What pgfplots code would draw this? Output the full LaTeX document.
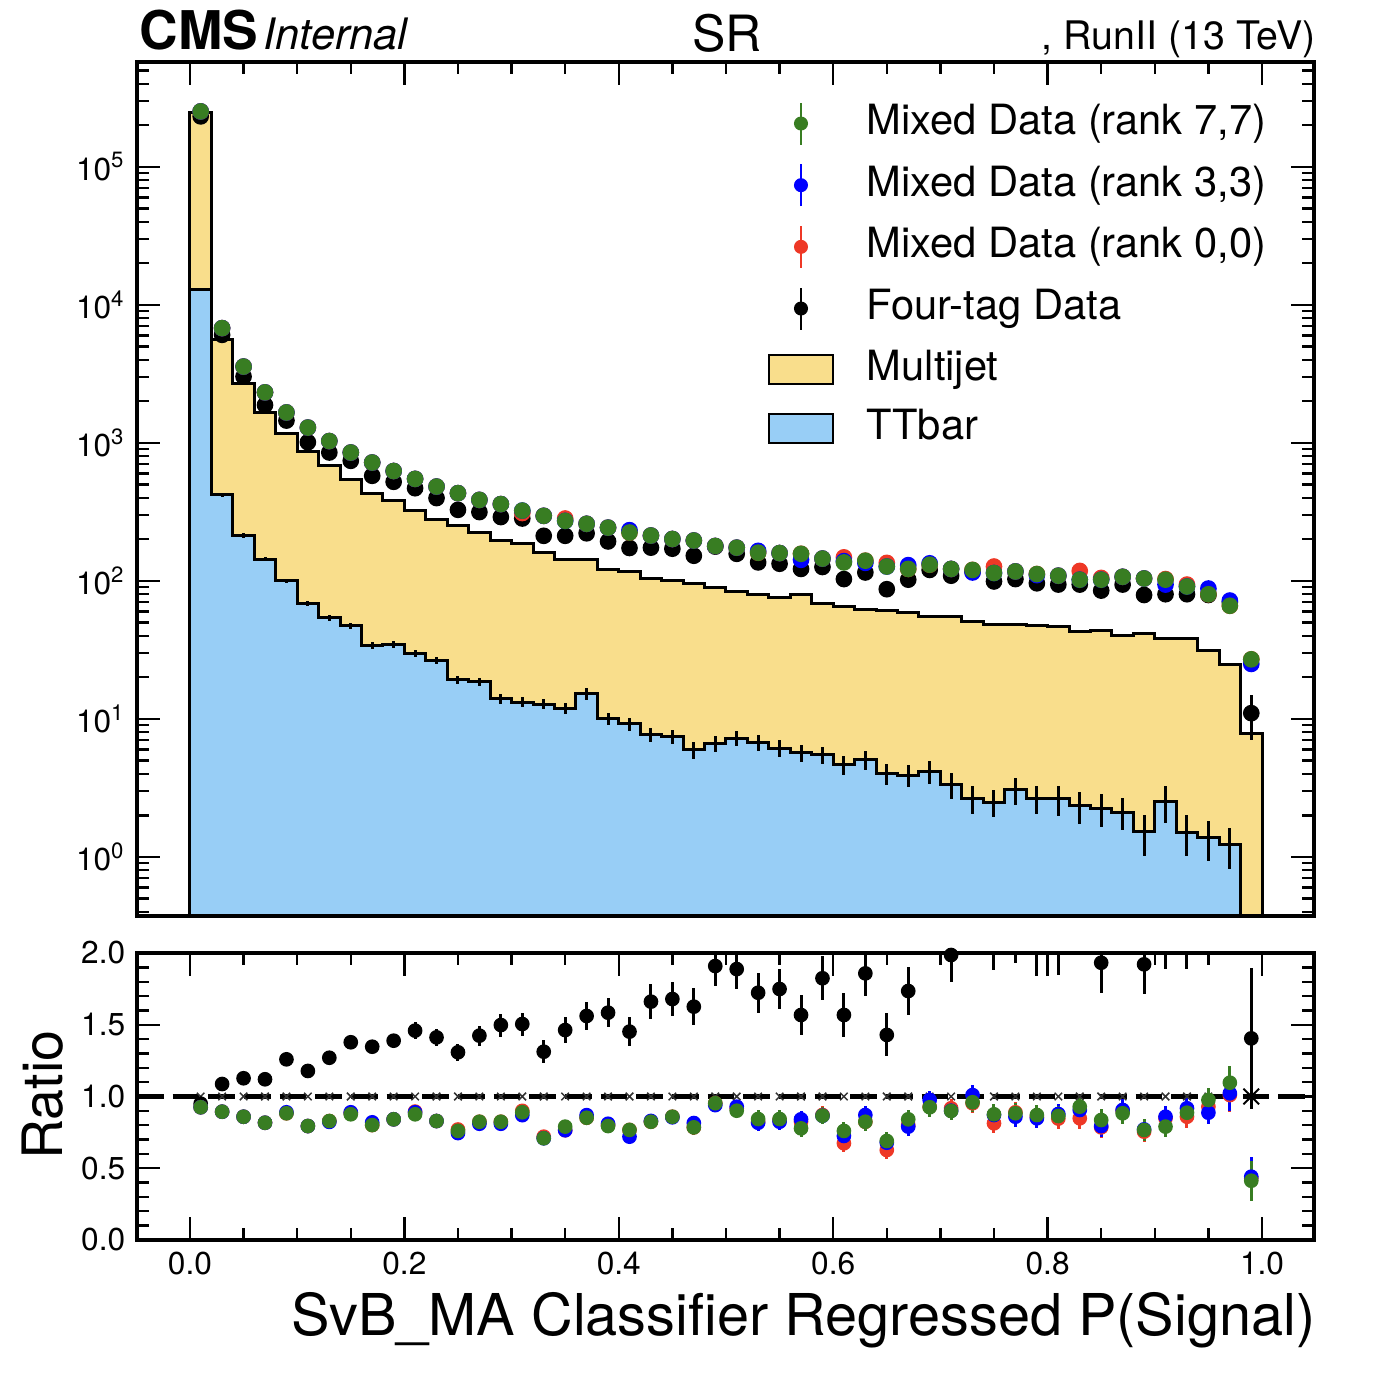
\documentclass[border=0pt]{standalone}
\usepackage{fontspec}
\setmainfont{TeX Gyre Heros}
\usepackage{pgfplots}
\pgfplotsset{compat=1.18}
\usepackage{pgfplotstable}

\definecolor{mjyellow}{RGB}{249,222,140}
\definecolor{ttblue}{RGB}{152,206,246}
\definecolor{mgreen}{RGB}{56,125,34}
\definecolor{mblue}{RGB}{0,0,255}
\definecolor{mred}{RGB}{238,56,38}

% bin left edges; tot = Multijet+TTbar stack total, tt = TTbar
\pgfplotstableread{
edge tot tt tterr
0.00 246000 13000 300
0.02 5600 420 15
0.04 2700 214 8
0.06 1670 144 5
0.08 1170 100 4
0.10 860 69 3
0.12 680 54 2.5
0.14 546 47.4 2.3
0.16 432 34 1.8
0.18 382 34.6 1.9
0.20 324 29.9 1.7
0.22 280 26.5 1.6
0.24 250 19.2 1.3
0.26 224 18.5 1.3
0.28 195 14.0 1.1
0.30 188 13.2 1.1
0.32 160 12.8 1.1
0.34 144 11.9 1.1
0.36 142 15.2 1.4
0.38 120 10.0 1.0
0.40 117 9.2 1.0
0.42 104 7.66 0.9
0.44 101 7.45 0.9
0.46 95 5.96 0.8
0.48 89 6.67 0.9
0.50 84 7.25 0.9
0.52 79 6.73 0.9
0.54 76 6.14 0.85
0.56 79 5.70 0.8
0.58 69 5.48 0.8
0.60 65 4.64 0.75
0.62 62 5.05 0.8
0.64 61 4.04 0.7
0.66 58.5 3.9 0.7
0.68 55 4.15 0.8
0.70 55 3.32 0.7
0.72 50.5 2.66 0.6
0.74 48.5 2.48 0.55
0.76 48 3.06 0.7
0.78 47.4 2.66 0.6
0.80 46.6 2.63 0.65
0.82 43.2 2.34 0.6
0.84 44 2.25 0.6
0.86 39.9 2.11 0.55
0.88 41.5 1.52 0.5
0.90 38.5 2.52 0.75
0.92 38 1.51 0.5
0.94 31.3 1.38 0.45
0.96 24.8 1.22 0.4
0.98 7.9 0.01 0
1.00 7.9 0.01 0
}\hist

% bin centres: data (top panel) and ratios (bottom panel); rb = stack/stack
\pgfplotstableread{
x d4 d4e m0 m3 m7 r4 r4e r0 r3 r7 rme rb
0.01 232000 480 252000 252000 252000 0.95 0.01 0.925 0.925 0.925 0.01 1
0.03 6060 78 6780 6780 6780 1.087 0.015 0.894 0.894 0.894 0.015 1
0.05 3020 55 3570 3570 3570 1.127 0.02 0.859 0.859 0.859 0.015 1
0.07 1880 43 2320 2320 2320 1.12 0.025 0.817 0.817 0.817 0.02 1
0.09 1450 38 1660 1660 1660 1.259 0.03 0.883 0.89 0.883 0.02 1
0.11 1010 32 1290 1290 1290 1.178 0.03 0.794 0.794 0.794 0.02 1
0.13 851 29 1030 1030 1030 1.27 0.035 0.829 0.823 0.829 0.025 1
0.15 741 27 851 851 851 1.378 0.045 0.885 0.89 0.876 0.025 1
0.17 577 24 720 720 720 1.347 0.045 0.801 0.82 0.801 0.025 1
0.19 522 23 625 625 625 1.389 0.05 0.841 0.841 0.841 0.025 1
0.21 469 22 548 548 548 1.459 0.06 0.895 0.89 0.876 0.025 1
0.23 398 20 482 482 482 1.412 0.06 0.829 0.829 0.829 0.03 1
0.25 327 18 432 432 432 1.308 0.06 0.77 0.745 0.76 0.03 1
0.27 315 18 386 386 386 1.424 0.07 0.824 0.81 0.824 0.03 1
0.29 290 17 360 360 360 1.498 0.08 0.824 0.81 0.824 0.03 1
0.31 283 17 310 323 323 1.505 0.08 0.9 0.87 0.89 0.03 1
0.33 212 15 296 296 296 1.312 0.08 0.72 0.709 0.709 0.04 1
0.35 212 15 283 272 272 1.463 0.09 0.765 0.765 0.79 0.04 1
0.37 221 15 259 259 259 1.561 0.1 0.852 0.87 0.852 0.04 1
0.39 193 14 243 243 243 1.584 0.1 0.8 0.81 0.794 0.04 1
0.41 173 13 224 233 224 1.452 0.1 0.767 0.72 0.767 0.04 1
0.43 174 13 213 213 213 1.661 0.12 0.824 0.83 0.824 0.05 1
0.45 171 13 201 201 201 1.679 0.12 0.859 0.855 0.859 0.05 1
0.47 152 12 196 196 196 1.626 0.13 0.785 0.815 0.785 0.05 1
0.49 177 13 179 179 179 1.909 0.14 0.953 0.94 0.953 0.05 1
0.51 157 13 174 174 174 1.888 0.14 0.918 0.929 0.901 0.05 1
0.53 136 12 160 165 160 1.723 0.14 0.824 0.817 0.843 0.06 1
0.55 133 12 159 159 159 1.749 0.14 0.836 0.824 0.843 0.06 1
0.57 122 11 157 142 157 1.568 0.14 0.824 0.841 0.778 0.06 1
0.59 126 11 145 145 145 1.824 0.155 0.871 0.866 0.866 0.06 1
0.61 103 10 148 139 136 1.568 0.15 0.674 0.725 0.76 0.06 1
0.63 115 11 140 135 140 1.858 0.16 0.824 0.871 0.824 0.065 1
0.65 87 9 135 127 127 1.429 0.15 0.627 0.678 0.69 0.065 1
0.67 102 10 122 130 122 1.735 0.17 0.801 0.79 0.841 0.065 1
0.69 120 11 131 134 131 2.3 0.2 0.929 0.976 0.925 0.065 1
0.71 109 10 122 122 122 1.986 0.19 0.918 0.901 0.899 0.065 1
0.73 117 11 120 115 120 2.3 0.21 0.953 1.01 0.96 0.07 1
0.75 99 10 127 114 114 2.08 0.2 0.813 0.871 0.876 0.07 1
0.77 103 10 117 117 117 2.14 0.21 0.89 0.859 0.883 0.07 1
0.79 96 10 112 110 112 2.05 0.21 0.859 0.848 0.871 0.07 1
0.81 94 10 109 109 109 2.06 0.21 0.846 0.878 0.864 0.07 1
0.83 94 10 118 102 102 2.25 0.23 0.848 0.906 0.929 0.075 1
0.85 85 9 105 102 102 1.932 0.21 0.785 0.794 0.836 0.075 1
0.87 94 10 107 107 107 2.35 0.24 0.901 0.906 0.883 0.075 1
0.89 79 9 104 104 104 1.921 0.21 0.755 0.771 0.767 0.075 1
0.91 80 9 103 94 102 2.12 0.23 0.848 0.859 0.79 0.075 1
0.93 80 9 94 91 91 2.12 0.23 0.859 0.918 0.887 0.08 1
0.95 79 9 80 88 80 2.5 0.28 0.929 0.887 0.976 0.08 1
0.97 70 8 66 72 66 2.8 0.35 1.01 1.022 1.096 0.12 1
0.99 11 4 27 25 27 1.405 0.49 0.43 0.441 0.413 0.14 1
}\pts

\pgfplotsset{
  cmsax/.style={
    scale only axis, width=353.1pt,
    xmin=-0.0494, xmax=1.0485,
    axis line style={line width=1.3pt},
    tick align=inside, xtick pos=both, ytick pos=both,
    xticklabel pos=lower, yticklabel pos=left,
    major tick length=7pt, minor tick length=3.6pt,
    tick style={black, line width=0.7pt},
    tick label style={font=\fontsize{9.5}{11}\selectfont},
    xtick={0,0.2,0.4,0.6,0.8,1.0}, minor x tick num=3,
  },
  mkleg/.style={legend image code/.code={%
    \path[draw=none, fill=none] (0pt,-6.3pt) rectangle (19.2pt,6.3pt);
    \draw[line width=0.5pt] (9.6pt,-6.3pt) -- (9.6pt,6.3pt);
    \fill (9.6pt,0pt) circle (1.9pt);}},
  yellowleg/.style={legend image code/.code={%
    \draw[line width=0.6pt, fill=mjyellow, draw=black] (0pt,-4.35pt) rectangle (19.2pt,4.35pt);}},
  blueleg/.style={legend image code/.code={%
    \draw[line width=0.6pt, fill=ttblue, draw=black] (0pt,-4.35pt) rectangle (19.2pt,4.35pt);}},
  dpts/.style={only marks, mark=*, mark size=#1,
    error bars/y dir=both, error bars/y explicit, error bars/error mark=none,
    error bars/error bar style={line width=0.9pt, solid}},
}

\begin{document}
\begin{tikzpicture}
\useasboundingbox (-41.1pt,-40.2pt) rectangle (374.1pt,372pt);

% ---------------- top panel ----------------
\begin{axis}[cmsax, name=top, at={(0pt,97.2pt)}, anchor=south west,
  height=256.2pt,
  ymode=log, log basis y=10, log origin y=infty,
  ymin=0.373, ymax=5.75e5,
  xticklabels={},
  ytick={1,10,100,1000,10000,100000},
  minor ytick={0.4,0.5,0.6,0.7,0.8,0.9,2,3,4,5,6,7,8,9,20,30,40,50,60,70,80,90,200,300,400,500,600,700,800,900,2000,3000,4000,5000,6000,7000,8000,9000,20000,30000,40000,50000,60000,70000,80000,90000,200000,300000,400000,500000},
  yticklabel={10\textsuperscript{\pgfmathparse{int(round(\tick))}\pgfmathresult}},
  legend style={at={(0.5361,0.9535)}, anchor=north west, draw=none, fill=none,
    inner sep=0pt, outer sep=0pt, font=\fontsize{12.5}{15}\selectfont,
    row sep=5.4pt, column sep=9.9pt,
    nodes={inner sep=0pt, text height=9.5pt, text depth=3pt}},
  legend cell align=left,
]
\addplot[const plot, fill=mjyellow, draw=black, line width=0.9pt, forget plot]
  table[x=edge, y=tot] {\hist} \closedcycle;
\addplot[const plot, fill=ttblue, draw=black, line width=0.9pt, forget plot]
  table[x=edge, y=tt] {\hist} \closedcycle;
\addplot[draw=none, mark=none, forget plot,
  error bars/y dir=both, error bars/y explicit, error bars/error mark=none,
  error bars/error bar style={draw=black, line width=0.9pt, solid}]
  table[x expr=\thisrow{edge}+0.01, y=tt, y error=tterr] {\hist};

\addplot[black, dpts=2.3pt, forget plot] table[x=x, y=d4, y error=d4e] {\pts};
\addplot[mred, dpts=2.3pt, forget plot] table[x=x, y=m0, y error=rme] {\pts};
\addplot[mblue, dpts=2.3pt, forget plot] table[x=x, y=m3, y error=rme] {\pts};
\addplot[mgreen, dpts=2.3pt, forget plot] table[x=x, y=m7, y error=rme] {\pts};

\addlegendimage{mgreen, mkleg}
\addlegendentry{Mixed Data (rank 7,7)}
\addlegendimage{mblue, mkleg}
\addlegendentry{Mixed Data (rank 3,3)}
\addlegendimage{mred, mkleg}
\addlegendentry{Mixed Data (rank 0,0)}
\addlegendimage{black, mkleg}
\addlegendentry{Four-tag Data}
\addlegendimage{yellowleg}
\addlegendentry{Multijet}
\addlegendimage{blueleg}
\addlegendentry{TTbar}
\end{axis}

% ---------------- ratio panel ----------------
\begin{axis}[cmsax, name=bot, at={(0pt,0pt)}, anchor=south west,
  height=86.1pt,
  ymin=0, ymax=2,
  ytick={0,0.5,1,1.5,2}, minor y tick num=4,
  xticklabel style={/pgf/number format/.cd, fixed, fixed zerofill, precision=1, assume math mode=true},
  yticklabel style={/pgf/number format/.cd, fixed, fixed zerofill, precision=1, assume math mode=true},
]
\addplot[black!80, only marks, mark=x, mark size=1.6pt, line width=0.45pt, forget plot]
  table[x=x, y=rb] {\pts};
\addplot[black, line width=1.5pt, dash pattern=on 8pt off 2.7pt, forget plot]
  coordinates {(-0.0494,1) (1.0485,1)};
\addplot[black, only marks, mark=x, mark size=3.3pt, line width=0.6pt, forget plot]
  coordinates {(0.99,1)};
\addplot[black, dpts=2pt] table[x=x, y=r4, y error=r4e] {\pts};
\addplot[mred, dpts=2pt] table[x=x, y=r0, y error=rme] {\pts};
\addplot[mblue, dpts=2pt] table[x=x, y=r3, y error=rme] {\pts};
\addplot[mgreen, dpts=2pt] table[x=x, y=r7, y error=rme] {\pts};
\end{axis}

% ---------------- texts ----------------
\node[anchor=base west, inner sep=0pt, font=\fontsize{16}{18}\selectfont\bfseries] at (0.6pt,357pt) {CMS};
\node[anchor=base west, inner sep=0pt, font=\fontsize{13}{15}\selectfont\itshape] at (37.8pt,357pt) {Internal};
\node[anchor=base, inner sep=0pt, font=\fontsize{15}{18}\selectfont] at (177pt,356.4pt) {SR};
\node[anchor=base east, inner sep=0pt, font=\fontsize{11.8}{14}\selectfont] at (353.7pt,357pt) {, RunII (13 TeV)};
\node[anchor=base east, inner sep=0pt, font=\fontsize{17.3}{20}\selectfont] at (353.7pt,-28.8pt) {SvB\_MA Classifier Regressed P(Signal)};
\node[rotate=90, anchor=base, inner sep=0pt, font=\fontsize{16.7}{20}\selectfont] at (-22.2pt,43.5pt) {Ratio};
\end{tikzpicture}
\end{document}
